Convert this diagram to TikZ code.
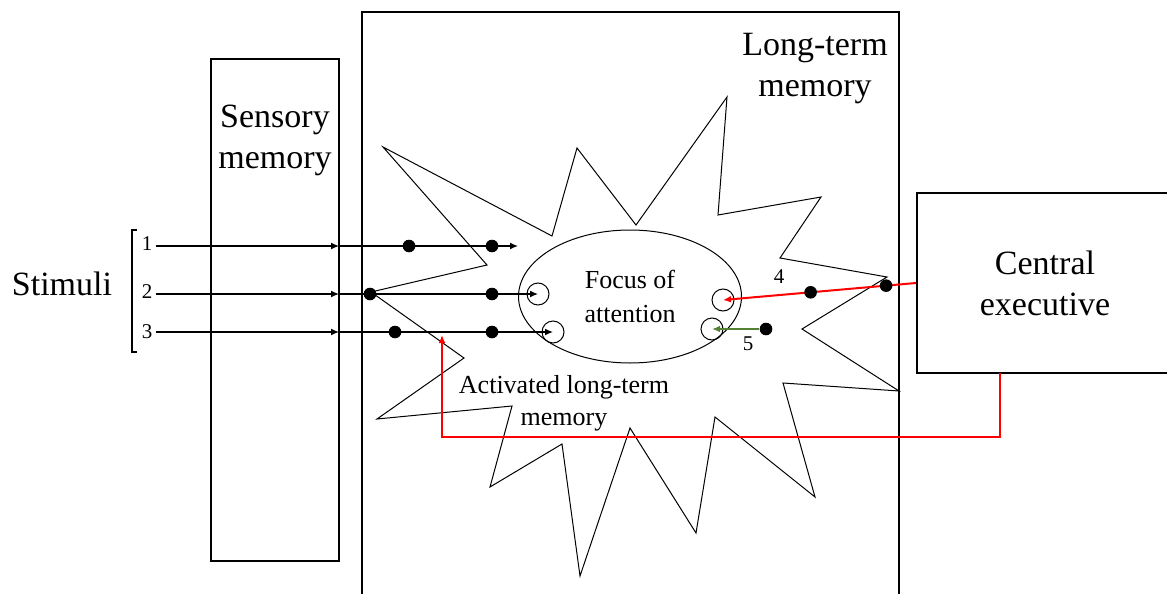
\documentclass[tikz,border=0pt]{standalone}
\usepackage{fontspec}
\setmainfont{Liberation Serif}
\usetikzlibrary{arrows.meta,shapes.geometric}
\definecolor{leafgreen}{RGB}{84,130,53}

\begin{document}
\begin{tikzpicture}[x=0.5pt,y=-0.5pt,
  box/.style={draw,line width=1pt},
  dot/.style={circle,fill,inner sep=0pt,minimum size=6.3pt},
  ring/.style={circle,draw,line width=0.5pt,inner sep=0pt,minimum size=11pt},
  big/.style={font=\fontsize{17}{20.5}\selectfont,align=center,inner sep=0pt},
  num/.style={font=\fontsize{10.5}{12}\selectfont,inner sep=1.5pt},
  tip/.style={-{Latex[length=4pt,width=3.4pt]}},
  stim/.style={line width=0.6pt,tip},
  redline/.style={draw=red,fill=red,line width=1pt,tip},
  greenline/.style={draw=leafgreen,fill=leafgreen,line width=1pt,tip}]
\useasboundingbox (0,0) rectangle (1167,594);
\clip (0,0) rectangle (1167,594);

% the three stores
\node[box,minimum width=64pt,minimum height=251pt] (sens) at (275,310) {};
\node[box,minimum width=268.5pt,minimum height=304pt] (ltm) at (630.5,316) {};
\node[box,big,minimum width=128pt,minimum height=90pt] (ce) at (1045,283) {Central\\executive};
\node[big] (senslbl) at (275,140) {Sensory\\memory};
\node[big] (ltmlbl) at (815,68.5) {Long-term\\memory};
\node[big,anchor=base] (stimuli) at (62,295) {Stimuli};

% activated part of long-term memory
\draw[line width=0.5pt] (383,147) -- (552,236) -- (577,148) -- (636,225) -- (727,97)
  -- (718,215) -- (821,197) -- (780,258) -- (887,277) -- (802,329) -- (899,391)
  -- (783,383) -- (815,497) -- (715,417) -- (696,533) -- (630,428) -- (580,576)
  -- (562,444) -- (490,487) -- (512,406) -- (377,419) -- (464,358) -- (371,292)
  -- (487,265) -- cycle;
\node[draw,ellipse,line width=0.5pt,inner sep=0pt,minimum width=111.5pt,minimum height=66.5pt,
  font=\fontsize{13}{17}\selectfont,align=center] (focus) at (630,296.5) {Focus of\\attention};
\node[font=\fontsize{13}{16}\selectfont,align=center,inner sep=0pt] (active) at (564,403)
  {Activated long-term\\memory};

% stimuli
\draw[line width=0.75pt] (137,230) -- (132,230) -- (132,352) -- (137,352);
\foreach \i/\y/\b in {1/246/250,2/294/298,3/332/338} {
  \node[num,anchor=base] (s\i) at (147,\b) {\i};
  \coordinate (e\i) at (339,\y);
  \draw[stim] (s\i.east |- e\i) -- (e\i);
}
\coordinate (t1) at (518,246);
\node[ring] (r2) at (538,294) {};
\node[ring] (r3) at (553,332) {};
\draw[stim] (e1) -- (t1);
\draw[stim] (e2) -- (r2.center);
\draw[stim] (e3) -- (r3.center);
\foreach \n/\x/\y in {a/409/246,b/492/246,c/370/294,d/492/294,e/395/332,f/492/332}
  \node[dot] (\n) at (\x,\y) {};

% central executive
\node[ring] (r4) at (723,300) {};
\draw[redline] (ce.west) -- node[dot,fill=black,pos=0.155] (h1) {} node[dot,fill=black,pos=0.546] (h2) {} (r4.center);
\node[num,anchor=base] (four) at (779,283) {4};
\node[ring] (r5) at (712,329) {};
\node[dot] (g) at (766,329) {};
\draw[greenline] (g) -- (r5.center);
\node[num,anchor=base] (five) at (748,350) {5};
\coordinate (cebot) at (1000,373);
\coordinate (turn) at (442,437);
\coordinate (back) at (442,335);
\draw[redline,fill=none] (cebot) |- (turn) -- (back);
\end{tikzpicture}
\end{document}
